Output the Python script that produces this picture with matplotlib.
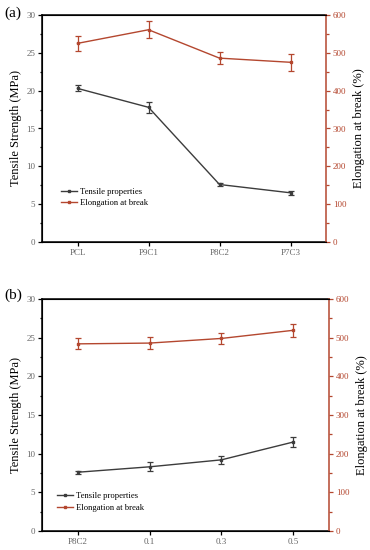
import numpy as np
import matplotlib

matplotlib.use("Agg")
import matplotlib.pyplot as plt
from matplotlib.lines import Line2D
from matplotlib.ticker import AutoMinorLocator

plt.rcParams["font.family"] = ["Liberation Serif", "DejaVu Serif"]

# panel (a)
cats_a = ["PCL", "P9C1", "P8C2", "P7C3"]
ts_a = [20.3, 17.8, 7.6, 6.5]
ts_err_a = [0.4, 0.75, 0.2, 0.3]
el_a = [525, 561, 486, 475]
el_err_a = [20, 22, 15, 22]

# panel (b)
cats_b = ["P8C2", "0.1", "0.3", "0.5"]
ts_b = [7.6, 8.3, 9.2, 11.5]
ts_err_b = [0.2, 0.6, 0.5, 0.7]
el_b = [484, 486, 498, 519]
el_err_b = [14, 15, 14, 16]

C_TS = "#3c3c3c"
C_EL = "#b4472f"
TICK_GRAY = "#666666"


def draw_panel(ax, cats, ts, ts_err, el, el_err, leg_anchor):
    x = np.arange(1, len(cats) + 1)
    ax2 = ax.twinx()

    ax.errorbar(x, ts, yerr=ts_err, color=C_TS, marker="s", markersize=2,
                linewidth=1.0, elinewidth=0.9, capsize=2.5, capthick=0.9)
    ax2.errorbar(x, el, yerr=el_err, color=C_EL, marker="s", markersize=2,
                 linewidth=1.0, elinewidth=0.9, capsize=2.5, capthick=0.9)

    ax.set_xlim(0.5, len(cats) + 0.5)
    ax.set_xticks(x)
    ax.set_xticklabels(cats)
    ax.set_ylim(0, 30)
    ax.set_yticks(np.arange(0, 31, 5))
    ax.yaxis.set_minor_locator(AutoMinorLocator(2))
    ax2.set_ylim(0, 600)
    ax2.set_yticks(np.arange(0, 601, 100))
    ax2.yaxis.set_minor_locator(AutoMinorLocator(2))

    ax.set_ylabel("Tensile Strength (MPa)", fontsize=9, labelpad=3)
    ax2.set_ylabel("Elongation at break (%)", fontsize=9, labelpad=5)

    ax.tick_params(axis="both", which="both", direction="out", labelsize=6.5,
                   labelcolor=TICK_GRAY, width=0.9, pad=2)
    ax.tick_params(which="major", length=3)
    ax.tick_params(which="minor", length=1.8)
    ax2.tick_params(axis="y", which="both", direction="out", labelsize=6.5,
                    colors=C_EL, width=0.9, pad=2)
    ax2.tick_params(which="major", length=3)
    ax2.tick_params(which="minor", length=1.8)

    for s in ["left", "bottom", "top"]:
        ax.spines[s].set_linewidth(1.1)
        ax.spines[s].set_color("black")
    ax2.spines["right"].set_color(C_EL)
    ax2.spines["right"].set_linewidth(1.1)
    ax.spines["right"].set_visible(False)

    handles = [Line2D([], [], color=C_TS, marker="s", markersize=1.8, linewidth=1.0),
               Line2D([], [], color=C_EL, marker="s", markersize=1.8, linewidth=1.0)]
    ax.legend(handles, ["Tensile properties", "Elongation at break"],
              loc="center left", bbox_to_anchor=leg_anchor, frameon=False,
              fontsize=6.2, handlelength=1.9, handletextpad=0.35,
              labelspacing=0.35, borderpad=0, borderaxespad=0)


fig = plt.figure(figsize=(3.7, 5.5), dpi=100)
ax_a = fig.add_axes([42 / 370, 1 - 242 / 550, 284 / 370, 227 / 550])
ax_b = fig.add_axes([42 / 370, 1 - 531 / 550, 287 / 370, 232 / 550])

draw_panel(ax_a, cats_a, ts_a, ts_err_a, el_a, el_err_a, (0.067, 0.196))
draw_panel(ax_b, cats_b, ts_b, ts_err_b, el_b, el_err_b, (0.052, 0.125))

fig.text(4 / 370, 1 - 13 / 550, "(a)", fontsize=11, ha="left", va="center")
fig.text(4 / 370, 1 - 295 / 550, "(b)", fontsize=11, ha="left", va="center")

fig.savefig("out.png", dpi=100)
